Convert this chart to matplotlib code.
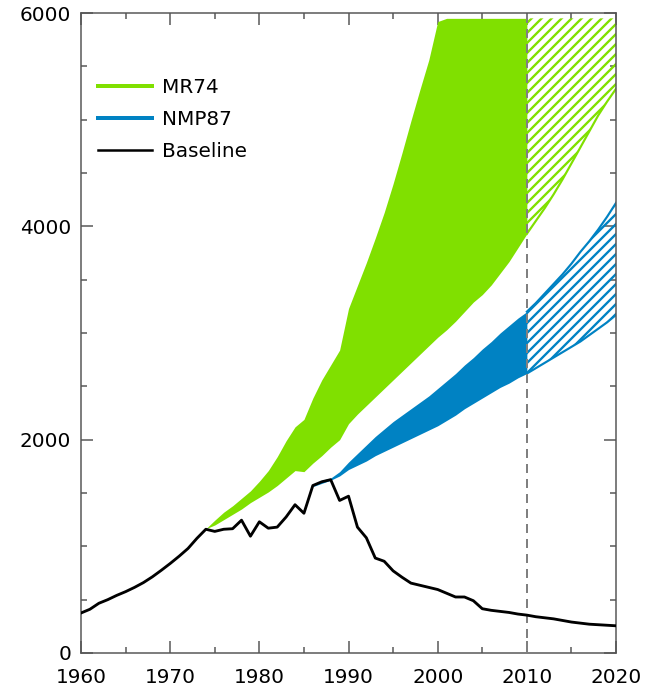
import matplotlib
matplotlib.use("Agg")
import matplotlib.pyplot as plt
from matplotlib.lines import Line2D

plt.rcParams['font.family'] = ['DejaVu Sans']
plt.rcParams['hatch.linewidth'] = 1.4
plt.rcParams['lines.scale_dashes'] = False

# ---- data ----
base_years = list(range(1960, 2021))
baseline = [375, 410, 466, 500, 540, 575, 615, 660, 714, 775,
            839, 907, 980, 1075, 1160, 1140, 1160, 1165, 1245, 1095,
            1230, 1170, 1180, 1275, 1390, 1310, 1570, 1605, 1625, 1430,
            1470, 1180, 1080, 890, 860, 770, 710, 655, 635, 615,
            595, 560, 525, 525, 490, 415, 400, 390, 380, 365,
            355, 340, 330, 320, 305, 290, 280, 270, 265, 260, 255]

mr_years = list(range(1974, 2011))
mr_hi = [1165, 1245, 1320, 1380, 1450, 1520, 1610, 1710, 1840, 1990,
         2120, 2190, 2390, 2560, 2700, 2840, 3230, 3445, 3660, 3890,
         4130, 4400, 4690, 4990, 5280, 5560, 5920, 5950, 5950, 5950,
         5950, 5950, 5950, 5950, 5950, 5950, 5950]
mr_lo = [1165, 1200, 1250, 1300, 1350, 1410, 1460, 1510, 1570, 1640,
         1710, 1700, 1780, 1850, 1930, 2000, 2150, 2240, 2320, 2400,
         2480, 2560, 2640, 2720, 2800, 2880, 2960, 3030, 3110, 3200,
         3290, 3360, 3450, 3560, 3670, 3800, 3930]

nmp_years = list(range(1986, 2011))
nmp_hi = [1580, 1620, 1640, 1700, 1790, 1870, 1950, 2030, 2100, 2170,
          2230, 2290, 2350, 2410, 2480, 2550, 2620, 2700, 2770, 2850,
          2920, 3000, 3070, 3140, 3200]
nmp_lo = [1560, 1590, 1620, 1660, 1720, 1760, 1800, 1850, 1890, 1930,
          1970, 2010, 2050, 2090, 2130, 2180, 2230, 2290, 2340, 2390,
          2440, 2490, 2530, 2580, 2620]

proj_years = list(range(2010, 2021))
mr_proj_lo = [3930, 4050, 4170, 4300, 4440, 4590, 4740, 4890, 5040, 5170, 5290]
mr_proj_hi = [5950] * 11
nmp_proj_hi = [3200, 3280, 3370, 3460, 3550, 3650, 3760, 3860, 3970, 4090, 4220]
nmp_proj_lo = [2620, 2670, 2720, 2770, 2820, 2870, 2920, 2980, 3040, 3100, 3170]

labels = ['MR74', 'NMP87', 'Baseline']
green = '#80e000'
blue = '#0082c3'

fig = plt.figure(figsize=(5.375, 5.8), dpi=120)
ax = fig.add_axes([0.1256, 0.0618, 0.8295, 0.9195])

# measured ranges
ax.fill_between(mr_years, mr_lo, mr_hi, color=green, lw=0, zorder=2)
ax.fill_between(nmp_years, nmp_lo, nmp_hi, color=blue, lw=0, zorder=2)

# projected ranges (hatched)
ax.fill_between(proj_years, mr_proj_lo, mr_proj_hi, facecolor='none',
                edgecolor=green, hatch='////', lw=0, zorder=2)
ax.plot(proj_years, mr_proj_lo, color=green, lw=1.3, zorder=2)
ax.fill_between(proj_years, nmp_proj_lo, nmp_proj_hi, facecolor='none',
                edgecolor=blue, hatch='////', lw=0, zorder=2)
ax.plot(proj_years, nmp_proj_lo, color=blue, lw=1.3, zorder=2)
ax.plot(proj_years, nmp_proj_hi, color=blue, lw=1.3, zorder=2)

ax.axvline(2010, color='#808080', lw=1.2, ls=(0, (5.4, 3.6)), zorder=3)

ax.plot(base_years, baseline, color='black', lw=1.7, zorder=4)

ax.set_xlim(1960, 2020)
ax.set_ylim(0, 6000)
ax.set_xticks(range(1960, 2021, 10))
ax.set_xticks(range(1960, 2021, 5), minor=True)
ax.set_yticks([0, 2000, 4000, 6000])
ax.set_yticks(range(0, 6001, 500), minor=True)
ax.tick_params(which='both', direction='in', top=True, right=True,
               color='#555555', width=0.9, labelsize=12)
ax.tick_params(which='major', length=7)
ax.tick_params(which='minor', length=3.5)
ax.tick_params(axis='x', pad=9)
ax.tick_params(axis='y', pad=6)
for s in ax.spines.values():
    s.set_color('#555555')
    s.set_linewidth(0.9)

handles = [Line2D([], [], color=green, lw=2.4),
           Line2D([], [], color=blue, lw=2.4),
           Line2D([], [], color='black', lw=1.5)]
ax.legend(handles, labels, loc='upper left', bbox_to_anchor=(0.032, 0.899),
          frameon=False, fontsize=12, handlelength=2.7, handletextpad=0.5,
          labelspacing=0.65, borderpad=0, borderaxespad=0)

fig.savefig('out.png', dpi=120)
